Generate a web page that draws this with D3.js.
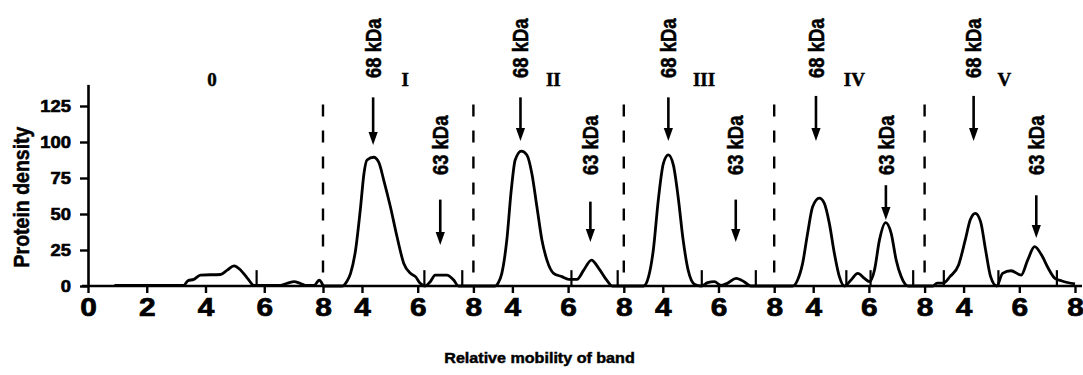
<!DOCTYPE html>
<html><head><meta charset="utf-8">
<script src="https://cdn.jsdelivr.net/npm/d3@7"></script>
<style>
body{margin:0;background:#fff}
svg text{font-family:"Liberation Sans",Arial,Helvetica,sans-serif;font-weight:bold;fill:#000;stroke:#000;stroke-width:0.45px;paint-order:stroke}
</style>
</head><body>
<svg id="chart" width="1083" height="375"></svg>
<script>
// ---------- data ----------
const panelNames = ["0", "I", "II", "III", "IV", "V"];
const xTicksFirst = [0, 2, 4, 6, 8];
const xTicksOther = [4, 6, 8];
const yTicks = [0, 25, 50, 75, 100, 125];
const yTitle = "Protein density";
const xTitle = "Relative mobility of band";

// densitometry traces: mobility (panel-local) and density
const mob0 = [0.9, 3.26, 3.4, 3.6, 3.83, 4.51, 4.74, 4.97, 5.2, 5.43, 5.65, 6.56, 6.8, 7.02, 7.2, 7.4, 7.7, 7.87, 8.0];
const den0 = [0.5, 0.5, 3.7, 4.6, 7.6, 8, 11, 14, 11, 5.3, 0.5, 0.5, 2, 3, 2, 0.5, 0.5, 4, 0.5];

const mob1 = [2.6, 3.29, 3.45, 3.59, 3.77, 3.95, 4.07, 4.18, 4.42, 4.6, 4.78, 5.02, 5.26, 5.5, 5.74, 5.92, 6.09, 6.27, 6.45, 6.63, 7.05, 7.29, 7.46, 8];
const den1 = [0, 0, 3, 8.8, 25, 55, 78, 87.5, 89.4, 86, 73.6, 55, 34, 15.7, 8.8, 6.5, 1.9, 0, 3, 7.6, 7.6, 4.2, 0, 0];

const mob2 = [2.6, 3.38, 3.5, 3.62, 3.8, 3.96, 4.1, 4.32, 4.52, 4.7, 4.88, 5.06, 5.24, 5.48, 5.78, 6.02, 6.32, 6.56, 6.84, 7.1, 7.4, 7.58, 8];
const den2 = [0, 0, 2.5, 8.8, 32, 66.7, 87.5, 93.7, 91, 78, 55, 32, 18, 8.8, 6.5, 4.6, 4.6, 11, 18, 12.3, 3.7, 0, 0];

const mob3 = [2.6, 3.31, 3.49, 3.66, 3.84, 4.02, 4.2, 4.38, 4.55, 4.73, 4.91, 5.15, 5.38, 5.61, 5.85, 6.09, 6.33, 6.63, 6.92, 7.16, 8];
const den3 = [0, 0, 6.5, 25, 60, 85, 91, 84, 62, 32, 11, 1, 0, 2.3, 3, 0.5, 2, 5.3, 3, 0, 0];

const mob4 = [2.6, 3.26, 3.44, 3.62, 3.8, 3.98, 4.22, 4.4, 4.58, 4.76, 4.94, 5.12, 5.36, 5.6, 5.84, 6.02, 6.2, 6.38, 6.6, 6.8, 6.98, 7.16, 7.4, 8];
const den4 = [0, 0, 4.2, 15.7, 36.6, 55, 61, 57.4, 43.5, 22.7, 6.5, 0, 4.2, 8.8, 5.3, 3, 11, 32, 44, 36.6, 18, 6.5, 0, 0];

const mob5 = [2.6, 2.9, 3.05, 3.27, 3.51, 3.82, 4.06, 4.24, 4.42, 4.61, 4.79, 4.97, 5.19, 5.4, 5.7, 6.07, 6.3, 6.55, 6.8, 7.04, 7.28, 7.53, 8];
const den5 = [0, 0, 2, 2, 6.5, 14.6, 32, 46, 50.5, 44.7, 25, 6.5, 0, 8.8, 10.6, 7.6, 18, 27.3, 21.5, 12.3, 5.3, 3.5, 1.4];

// integration boundary marks (panel-local mobility)
const marks0 = [5.74];
const marks1 = [6.24, 7.6];
const marks2 = [6.12, 7.78];
const marks3 = [5.4, 7.34];
const marks4 = [5.19, 6.06, 7.59];
const marks5 = [3.29, 5.25, 7.35];
const markHeight = 11;

// band annotations
const annPanel = [1, 1, 2, 2, 3, 3, 4, 4, 5, 5];
const annLabel = ["68 kDa", "63 kDa", "68 kDa", "63 kDa", "68 kDa", "63 kDa", "68 kDa", "63 kDa", "68 kDa", "63 kDa"];
const annX = [4.4, 6.81, 4.29, 6.8, 4.2, 6.62, 4.1, 6.61, 4.36, 6.61];
const annTip = [98, 28.5, 100.7, 30.5, 100.7, 30.5, 100.7, 45.8, 100.7, 33.3];
const annTail = [131, 60, 131, 58.6, 131, 60, 132, 70, 132, 63];
const annText = [144.4, 77, 144.4, 77, 144.4, 77, 144.4, 77, 144.4, 77];

const nameX = [4.22, 5.55, 5.47, 5.48, 5.48, 5.46];
const nameLevel = 139;
const dashTop = 126;

// ---------- layout ----------
const svg = d3.select("#chart");
const SX = 1.15; // horizontal stretch of lettering
const y = d3.scaleLinear().domain([0, 140]).range([286, 84.4]);
const firstLeft = 88, firstRight = 323, panelW = 150.4;
const xs = [d3.scaleLinear().domain([0, 8]).range([firstLeft, firstRight])];
for (let k = 1; k <= 5; k++) {
  xs.push(d3.scaleLinear().domain([2.6, 8]).range([firstRight + (k - 1) * panelW, firstRight + k * panelW]));
}
const traces = [[mob0, den0], [mob1, den1], [mob2, den2], [mob3, den3], [mob4, den4], [mob5, den5]];
const marks = [marks0, marks1, marks2, marks3, marks4, marks5];

// baseline (x axis line)
svg.append("line")
  .attr("x1", xs[0](0) - 6).attr("x2", xs[5](8) + 7)
  .attr("y1", y(0)).attr("y2", y(0))
  .attr("stroke", "#000").attr("stroke-width", 2.6);

// x axes per panel
xs.forEach((sc, i) => {
  const ax = d3.axisBottom(sc).tickValues(i === 0 ? xTicksFirst : xTicksOther)
    .tickSize(7).tickPadding(5).tickFormat(d3.format("d"));
  const g = svg.append("g").attr("transform", `translate(0,${y(0)})`).call(ax);
  g.select(".domain").remove();
  g.selectAll(".tick line").attr("stroke", "#000").attr("stroke-width", 2.4);
  g.selectAll(".tick text")
    .attr("font-size", 26).attr("font-family", null).attr("fill", "#000")
    .attr("x", 0)
    .attr("transform", `scale(${SX},1)`)
    .style("stroke-width", "0.7px");
});

// y axis
const yAx = d3.axisLeft(y).tickValues(yTicks).tickSize(8).tickSizeOuter(0).tickPadding(9);
const gy = svg.append("g").attr("transform", `translate(${firstLeft},0)`).call(yAx);
gy.select(".domain").attr("stroke", "#000").attr("stroke-width", 2.6);
gy.selectAll(".tick line").attr("stroke", "#000").attr("stroke-width", 2.4);
gy.selectAll(".tick text")
  .attr("font-size", 16).attr("font-family", null).attr("fill", "#000")
  .attr("x", -17 / SX).attr("dy", "0.36em")
  .attr("transform", `scale(${SX},1)`)
  .style("stroke-width", "0.6px");

// dashed panel separators
for (let k = 0; k < 5; k++) {
  const bx = xs[k](8);
  svg.append("line").attr("x1", bx).attr("x2", bx)
    .attr("y1", y(dashTop)).attr("y2", y(0))
    .attr("stroke", "#000").attr("stroke-width", 2.4)
    .attr("stroke-dasharray", "12,14");
}

// traces
const line = d3.line().curve(d3.curveMonotoneX);
traces.forEach(([mx, dn], i) => {
  const pts = mx.map((m, j) => [xs[i](m), y(dn[j])]);
  svg.append("path").attr("d", line(pts))
    .attr("fill", "none").attr("stroke", "#000")
    .attr("stroke-width", 2.8).attr("stroke-linejoin", "round");
});

// integration marks
marks.forEach((arr, i) => {
  arr.forEach(m => {
    svg.append("line").attr("x1", xs[i](m)).attr("x2", xs[i](m))
      .attr("y1", y(0)).attr("y2", y(markHeight))
      .attr("stroke", "#000").attr("stroke-width", 2.2);
  });
});

// panel names
panelNames.forEach((n, i) => {
  svg.append("text")
    .attr("transform", `translate(${xs[i](nameX[i])},${y(nameLevel)})`)
    .attr("text-anchor", "middle")
    .style("font-family", "'Liberation Serif','Times New Roman',serif")
    .attr("font-size", 19)
    .text(n);
});

// arrows and labels
annLabel.forEach((lab, i) => {
  const sc = xs[annPanel[i]];
  const ax = sc(annX[i]);
  const tipY = y(annTip[i]);
  const tailY = y(annTail[i]);
  svg.append("line").attr("x1", ax).attr("x2", ax)
    .attr("y1", tailY).attr("y2", tipY - 10)
    .attr("stroke", "#000").attr("stroke-width", 2.6);
  svg.append("path")
    .attr("d", `M${ax - 4.6},${tipY - 13}L${ax + 4.6},${tipY - 13}L${ax},${tipY}Z`)
    .attr("fill", "#000");
  svg.append("text")
    .attr("transform", `translate(${ax},${y(annText[i])}) scale(${SX},1) rotate(-90)`)
    .attr("dy", "0.36em")
    .attr("font-size", 18.5)
    .text(lab);
});

// axis titles
svg.append("text")
  .attr("transform", `translate(21,${(y(0) + y(125)) / 2 + 1}) scale(${SX},1) rotate(-90)`)
  .attr("text-anchor", "middle").attr("dy", "0.36em")
  .attr("font-size", 19.5)
  .text(yTitle);

svg.append("text")
  .attr("transform", `translate(${(xs[0](0) + xs[5](8)) / 2 - 42},363) scale(${SX},1)`)
  .attr("text-anchor", "middle")
  .attr("font-size", 14)
  .text(xTitle);
</script>
</body></html>
